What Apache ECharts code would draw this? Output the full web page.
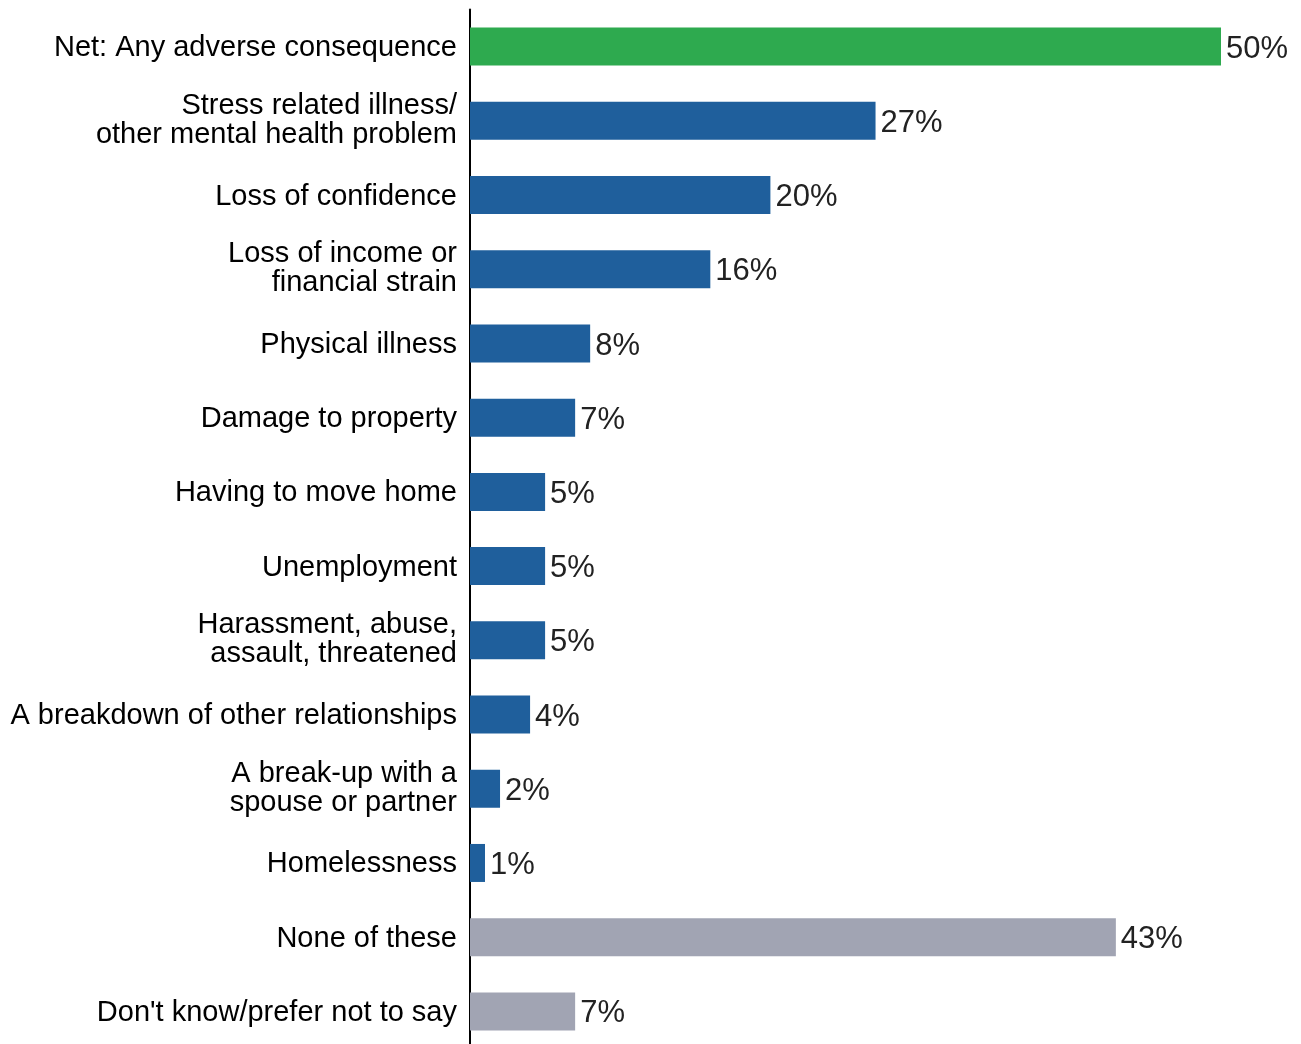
<!DOCTYPE html>
<html>
<head>
<meta charset="utf-8">
<script src="https://cdn.jsdelivr.net/npm/echarts@6/dist/echarts.min.js"></script>
<style>
  html, body { margin: 0; padding: 0; background: #ffffff; overflow: hidden; }
  #chart { width: 1301px; height: 1060px; }
</style>
</head>
<body>
<div id="chart"></div>
<script>
// Categories, top to bottom
const categories = [
  'Net: Any adverse consequence',
  'Stress related illness/\nother mental health problem',
  'Loss of confidence',
  'Loss of income or\nfinancial strain',
  'Physical illness',
  'Damage to property',
  'Having to move home',
  'Unemployment',
  'Harassment, abuse,\nassault, threatened',
  'A breakdown of other relationships',
  'A break-up with a\nspouse or partner',
  'Homelessness',
  'None of these',
  "Don't know/prefer not to say"
];

// Share of respondents (%)
const values = [50, 27, 20, 16, 8, 7, 5, 5, 5, 4, 2, 1, 43, 7];

// Bar group per category: net, item, other
const groups = ['net', 'item', 'item', 'item', 'item', 'item', 'item', 'item', 'item', 'item', 'item', 'item', 'other', 'other'];

const groupColors = { net: '#2eaa4f', item: '#1f5f9c', other: '#a1a4b3' };

const FONT = 'Liberation Sans, Arial, sans-serif';
const catText = { color: '#000000', fontFamily: FONT, fontSize: 29, lineHeight: 30 };

// Single-line labels sit a touch low, two-line labels a touch high
function categoryLabel(value) {
  const lines = value.split('\n');
  if (lines.length === 1) return '{s|' + value + '}';
  return '{a|' + lines[0] + '}\n{b|' + lines[1] + '}';
}

const chart = echarts.init(document.getElementById('chart'), null, { renderer: 'canvas' });

chart.setOption({
  animation: false,
  grid: { left: 470, right: 80, top: 9.5, height: 1039 },
  xAxis: {
    type: 'value',
    min: 0,
    max: 50,
    show: false
  },
  yAxis: {
    type: 'category',
    inverse: true,
    data: categories,
    axisLine: { show: true, lineStyle: { color: '#000000', width: 2 } },
    axisTick: { show: false },
    axisLabel: {
      color: '#000000',
      fontFamily: FONT,
      fontSize: 29,
      margin: 13,
      align: 'right',
      formatter: categoryLabel,
      rich: {
        s: Object.assign({ padding: [3, 0, 0, 0] }, catText),
        a: Object.assign({}, catText),
        b: Object.assign({ padding: [2, 0, 4, 0] }, catText)
      }
    }
  },
  series: [{
    type: 'bar',
    barWidth: 38,
    data: values.map((v, i) => ({
      value: v,
      itemStyle: { color: groupColors[groups[i]] }
    })),
    label: {
      show: true,
      position: 'right',
      distance: 5,
      formatter: p => '{v|' + p.value + '%}',
      color: '#222222',
      fontFamily: FONT,
      fontSize: 31,
      rich: {
        v: { color: '#222222', fontFamily: FONT, fontSize: 31, lineHeight: 34, padding: [5, 0, 0, 0] }
      }
    }
  }]
});
</script>
</body>
</html>
